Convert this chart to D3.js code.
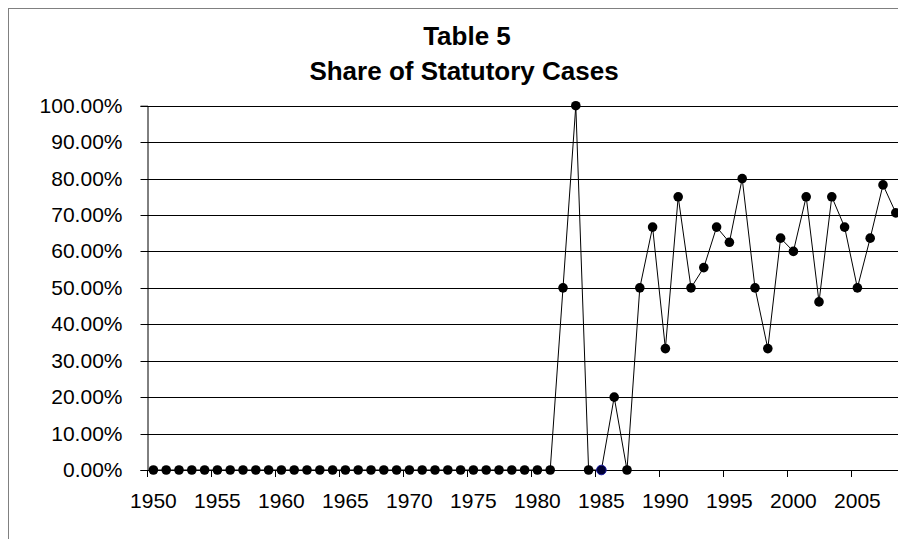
<!DOCTYPE html>
<html>
<head>
<meta charset="utf-8">
<script src="https://cdn.jsdelivr.net/npm/d3@7"></script>
<style>
  html, body { margin: 0; padding: 0; background: #fff; }
  svg { display: block; }
  text { font-family: Arial, "Liberation Sans", sans-serif; fill: #000; }
</style>
</head>
<body>
<svg id="chart" width="898" height="539"></svg>
<script>
// ---- data ----
const titleLines = ["Table 5", "Share of Statutory Cases"];
const years = [
  1950,1951,1952,1953,1954,1955,1956,1957,1958,1959,
  1960,1961,1962,1963,1964,1965,1966,1967,1968,1969,
  1970,1971,1972,1973,1974,1975,1976,1977,1978,1979,
  1980,1981,1982,1983,1984,1985,1986,1987,1988,1989,
  1990,1991,1992,1993,1994,1995,1996,1997,1998,1999,
  2000,2001,2002,2003,2004,2005,2006,2007,2008
];
const shares = [
  0,0,0,0,0,0,0,0,0,0,
  0,0,0,0,0,0,0,0,0,0,
  0,0,0,0,0,0,0,0,0,0,
  0,0,0.50,1.00,0,0,0.20,0,0.50,0.6667,
  0.3333,0.75,0.50,0.5556,0.6667,0.625,0.80,0.50,0.3333,0.6364,
  0.60,0.75,0.4615,0.75,0.6667,0.50,0.6364,0.7826,0.7059
];
const xTickLabels = ["1950","1955","1960","1965","1970","1975","1980","1985","1990","1995","2000","2005"];
const yTickValues = [0,0.1,0.2,0.3,0.4,0.5,0.6,0.7,0.8,0.9,1.0];
const highlightYear = 1985;

// ---- layout ----
const svg = d3.select("#chart");
const plotLeft = 147, bandW = 12.8;
const plotRight = plotLeft + years.length * bandW;
const yBottom = 470, yTop = 105.7;

const x = d3.scaleBand().domain(years).range([plotLeft, plotRight]).padding(0);
const y = d3.scaleLinear().domain([0, 1]).range([yBottom, yTop]);
const cx = d => x(d) + x.bandwidth() / 2;

// outer chart border
svg.append("rect")
  .attr("x", 8.5).attr("y", 8.5)
  .attr("width", 1000).attr("height", 1000)
  .attr("fill", "none").attr("stroke", "#808080").attr("stroke-width", 1);

// title
svg.append("text").attr("x", 467).attr("y", 45)
  .attr("text-anchor", "middle").attr("font-weight", "bold").attr("font-size", 26)
  .text(titleLines[0]);
svg.append("text").attr("x", 464).attr("y", 80)
  .attr("text-anchor", "middle").attr("font-weight", "bold").attr("font-size", 26)
  .text(titleLines[1]);

// gridlines
svg.append("g").selectAll("line").data(yTickValues.filter(v => v > 0)).join("line")
  .attr("x1", plotLeft).attr("x2", plotRight)
  .attr("y1", d => Math.round(y(d)) + 0.5).attr("y2", d => Math.round(y(d)) + 0.5)
  .attr("stroke", "#000").attr("stroke-width", 1);

// y axis
const yAxis = d3.axisLeft(y).tickValues(yTickValues).tickFormat(d3.format(".2%"))
  .tickSize(7).tickPadding(18);
const gy = svg.append("g").attr("transform", `translate(${plotLeft + 0.5},0)`).call(yAxis);
gy.selectAll("text").attr("font-size", 21).attr("font-family", "Arial, 'Liberation Sans', sans-serif").attr("fill", "#000");
gy.selectAll("line").attr("stroke", "#000");
gy.select(".domain").attr("stroke", "#000");
gy.selectAll(".tick").attr("transform", d => `translate(0,${Math.round(y(d)) + 0.5})`);

// x axis (category axis, ticks on boundaries every 5)
const gx = svg.append("g");
gx.append("line").attr("x1", plotLeft).attr("x2", plotRight)
  .attr("y1", yBottom + 0.5).attr("y2", yBottom + 0.5).attr("stroke", "#000");
const labelYears = xTickLabels.map(Number);
gx.selectAll("line.tick").data(labelYears).join("line").attr("class", "tick")
  .attr("x1", d => Math.round(x(d)) + 0.5).attr("x2", d => Math.round(x(d)) + 0.5)
  .attr("y1", yBottom).attr("y2", yBottom + 7).attr("stroke", "#000");
gx.selectAll("text").data(xTickLabels).join("text")
  .attr("x", d => cx(+d)).attr("y", 508)
  .attr("text-anchor", "middle").attr("font-size", 21)
  .text(d => d);

// series line
const line = d3.line().x((d, i) => cx(years[i])).y(d => y(d));
svg.append("path").datum(shares).attr("d", line)
  .attr("fill", "none").attr("stroke", "#000").attr("stroke-width", 1);

// markers
svg.append("g").selectAll("circle").data(shares).join("circle")
  .attr("cx", (d, i) => cx(years[i])).attr("cy", d => y(d))
  .attr("r", 4.8)
  .attr("fill", (d, i) => years[i] === highlightYear ? "#000033" : "#000")
  .attr("stroke", (d, i) => years[i] === highlightYear ? "#1a1aa0" : "none")
  .attr("stroke-width", 1);
</script>
</body>
</html>
